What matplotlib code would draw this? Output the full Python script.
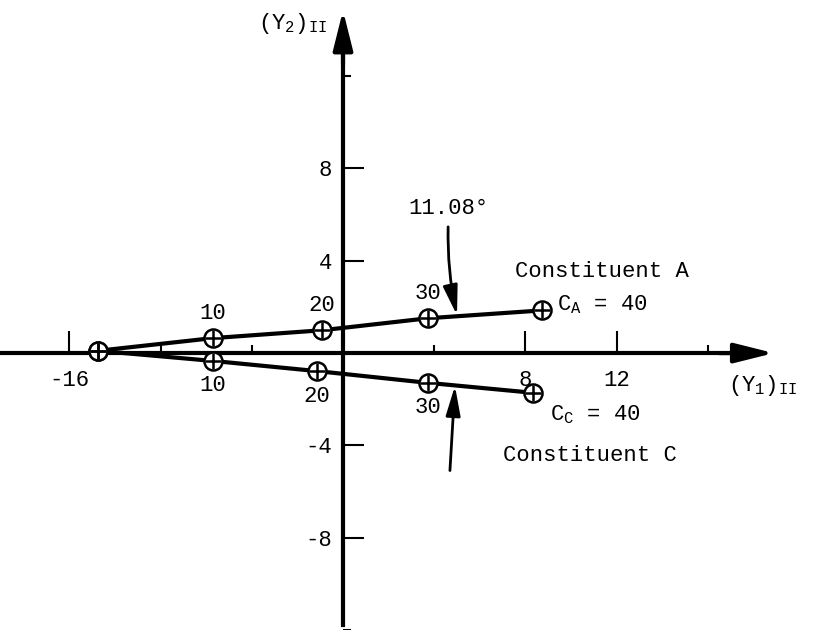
import matplotlib
matplotlib.use("Agg")
import matplotlib.pyplot as plt

plt.rcParams['font.family'] = ['Liberation Mono', 'DejaVu Sans']
plt.rcParams['mathtext.fontset'] = 'custom'
plt.rcParams['mathtext.rm'] = 'Liberation Mono'
plt.rcParams['mathtext.it'] = 'Liberation Mono'

# concentration steps along each trajectory (first point is the common start)
conc = [0, 10, 20, 30, 40]
a_y1 = [-10.75, -5.70, -0.92, 3.73, 8.73]
a_y2 = [0.10, 0.65, 0.99, 1.51, 1.85]
c_y1 = [-10.75, -5.70, -1.14, 3.73, 8.33]
c_y2 = [0.10, -0.34, -0.78, -1.29, -1.72]

x_major = [-12, 8, 12]
x_major_labels = ['-16', '8', '12']
x_minor = [-8, -4, 4, 16]
y_major = [-8, -4, 4, 8]
y_major_labels = ['-8', '-4', '4', '8']
y_minor = [-12, 12]

angle_label = '11.08°'

fig = plt.figure(figsize=(8.2, 6.3), dpi=100)
ax = fig.add_axes([0, 0, 1, 1])
ax.set_xlim(-343 / 22.8, (820 - 343) / 22.8)
ax.set_ylim((355 - 630) / 23.2, 355 / 23.2)

# axes crossing at the origin
ax.spines['left'].set_position(('data', 0))
ax.spines['bottom'].set_position(('data', 0))
ax.spines['right'].set_color('none')
ax.spines['top'].set_color('none')
for s in ('left', 'bottom'):
    ax.spines[s].set_linewidth(3)
ax.spines['bottom'].set_bounds(-15.2, 17.8)
ax.spines['left'].set_bounds(-11.77, 13.5)
ax.xaxis.set_ticks_position('bottom')
ax.yaxis.set_ticks_position('left')

ax.annotate('', xy=(18.9, 0), xytext=(16.5, 0),
            arrowprops=dict(arrowstyle='-|>,head_length=1.2,head_width=0.3',
                            mutation_scale=20, lw=3, color='black',
                            shrinkA=0, shrinkB=0))
ax.annotate('', xy=(0, 14.85), xytext=(0, 12.5),
            arrowprops=dict(arrowstyle='-|>,head_length=1.2,head_width=0.3',
                            mutation_scale=20, lw=3, color='black',
                            shrinkA=0, shrinkB=0))

ax.set_xticks(x_major, x_major_labels)
ax.set_xticks(x_minor, minor=True)
ax.set_yticks(y_major, y_major_labels)
ax.set_yticks(y_minor, minor=True)
ax.tick_params(axis='x', which='major', direction='in', length=16, width=1.5,
               pad=12, labelsize=16)
ax.tick_params(axis='x', which='minor', direction='in', length=6, width=1.5)
ax.tick_params(axis='y', which='major', direction='in', length=15, width=1.5,
               pad=8, labelsize=16)
ax.tick_params(axis='y', which='minor', direction='in', length=6, width=1.5)

# the two constituent trajectories
for ys1, ys2 in ((a_y1, a_y2), (c_y1, c_y2)):
    ax.plot(ys1, ys2, color='black', lw=3, zorder=3, solid_capstyle='round')
    ax.plot(ys1, ys2, ls='none', marker='o', ms=13, mfc='white', mec='black',
            mew=1.8, zorder=4)
    ax.plot(ys1, ys2, ls='none', marker='+', ms=12, mec='black', mew=1.8,
            zorder=5)

for c, x, y in zip(conc[1:4], a_y1[1:4], a_y2[1:4]):
    ax.annotate(str(c), (x, y), xytext=(0, 18), textcoords='offset points',
                ha='center', va='center', fontsize=16)
for c, x, y in zip(conc[1:4], c_y1[1:4], c_y2[1:4]):
    ax.annotate(str(c), (x, y), xytext=(0, -18), textcoords='offset points',
                ha='center', va='center', fontsize=16)

ax.annotate(r'C$_{A}$ = %d' % conc[-1], (a_y1[-1], a_y2[-1]), xytext=(11, 0),
            textcoords='offset points', ha='left', va='baseline', fontsize=16)
ax.annotate(r'C$_{C}$ = %d' % conc[-1], (c_y1[-1], c_y2[-1]), xytext=(12, -20),
            textcoords='offset points', ha='left', va='baseline', fontsize=16)

ax.text(7.54, 3.53, 'Constituent A', ha='left', va='center', fontsize=16)
ax.text(7.02, -4.44, 'Constituent C', ha='left', va='center', fontsize=16)

ax.text(4.61, 6.25, angle_label, ha='center', va='center', fontsize=16)
ax.annotate('', xy=(5.0, 1.64), xytext=(4.61, 5.47),
            arrowprops=dict(arrowstyle='-|>,head_length=0.9,head_width=0.22',
                            mutation_scale=20, lw=2, color='black',
                            connectionstyle='arc3,rad=0.06',
                            shrinkA=0, shrinkB=0))
ax.annotate('', xy=(4.91, -1.42), xytext=(4.69, -5.09),
            arrowprops=dict(arrowstyle='-|>,head_length=0.9,head_width=0.22',
                            mutation_scale=20, lw=2, color='black',
                            shrinkA=0, shrinkB=0))

# axis titles
ax.text(-0.7, 14.3, r'(Y$_{2}$)$_{\mathrm{II}}$', ha='right', va='center',
        fontsize=16)
ax.text(16.9, -1.4, r'(Y$_{1}$)$_{\mathrm{II}}$', ha='left', va='center',
        fontsize=16)

fig.savefig('out.png', dpi=100)
